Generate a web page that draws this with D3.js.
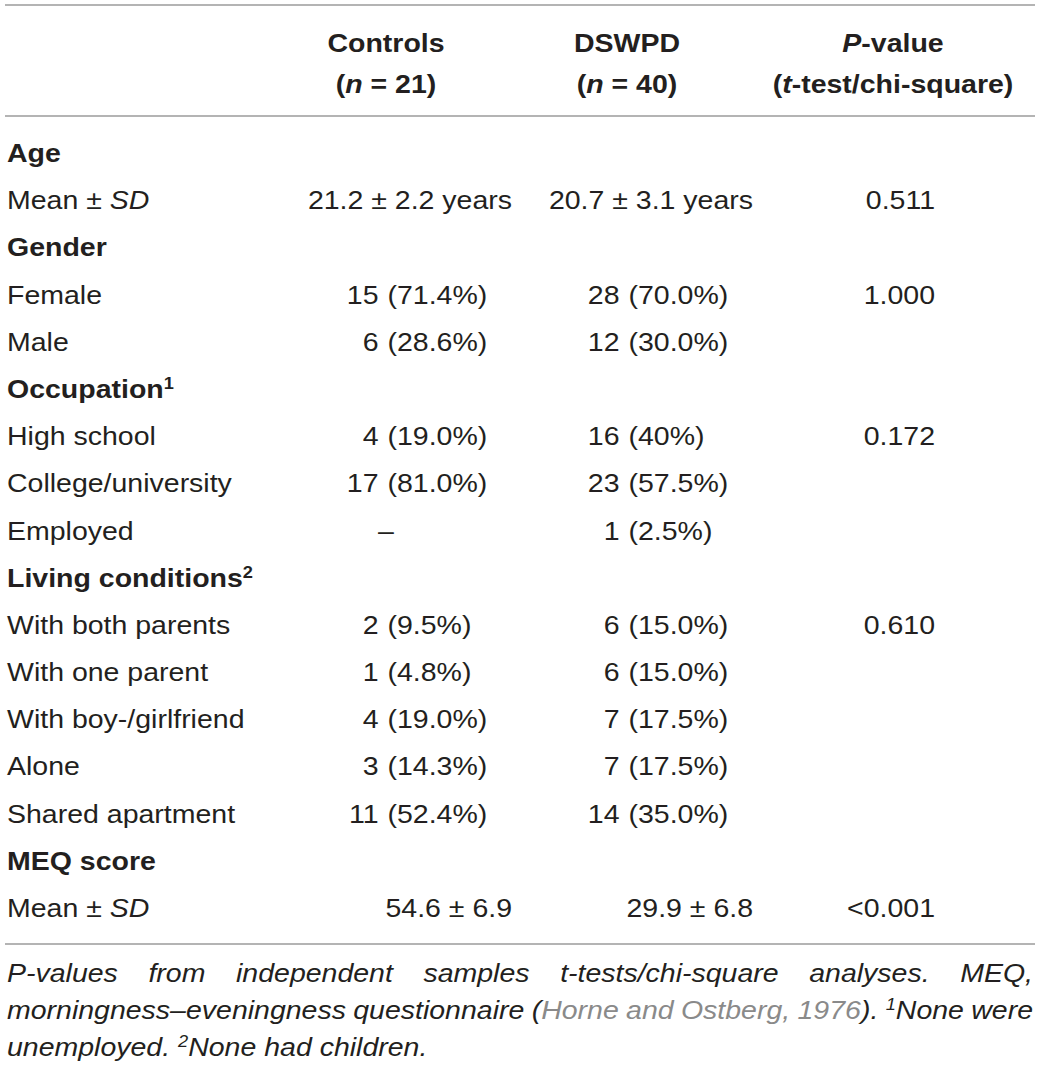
<!DOCTYPE html>
<html>
<head>
<meta charset="utf-8">
<script src="https://cdn.jsdelivr.net/npm/d3@7"></script>
<style>
  html, body { margin: 0; padding: 0; background: #fff; }
  svg { display: block; }
  text { font-family: "Liberation Sans", Arial, Helvetica, sans-serif; fill: #231f20; }
</style>
</head>
<body>
<svg id="chart" width="1040" height="1068"></svg>
<script>
// ---------------- DATA ----------------
// markup: *italic*, ^superscript^, {gray link text}
const headerColumns = ["Controls", "DSWPD", "*P*-value"];
const headerSubs = ["(*n* = 21)", "(*n* = 40)", "(*t*-test/chi-square)"];

const rowLabels = [
  "Age", "Mean ± *SD*",
  "Gender", "Female", "Male",
  "Occupation^1^", "High school", "College/university", "Employed",
  "Living conditions^2^", "With both parents", "With one parent",
  "With boy-/girlfriend", "Alone", "Shared apartment",
  "MEQ score", "Mean ± *SD*"
];
const sectionRows = [true, false, true, false, false, true, false, false, false,
  true, false, false, false, false, false, true, false];

const controlsValues = [
  "", "21.2 ± 2.2 years",
  "", "15 (71.4%)", "6 (28.6%)",
  "", "4 (19.0%)", "17 (81.0%)", "–",
  "", "2 (9.5%)", "1 (4.8%)", "4 (19.0%)", "3 (14.3%)", "11 (52.4%)",
  "", "54.6 ± 6.9"
];
const dswpdValues = [
  "", "20.7 ± 3.1 years",
  "", "28 (70.0%)", "12 (30.0%)",
  "", "16 (40%)", "23 (57.5%)", "1 (2.5%)",
  "", "6 (15.0%)", "6 (15.0%)", "7 (17.5%)", "7 (17.5%)", "14 (35.0%)",
  "", "29.9 ± 6.8"
];
const pValues = [
  "", "0.511",
  "", "1.000", "",
  "", "0.172", "", "",
  "", "0.610", "", "", "", "",
  "", "<0.001"
];

const footnoteLines = [
  { justify: true,  text: "*P-values from independent samples t-tests/chi-square analyses. MEQ,*" },
  { justify: true,  text: "*morningness–eveningness questionnaire (*{*Horne*} {*and*} {*Ostberg,*} {*1976*}*). ^1^None were*" },
  { justify: false, text: "*unemployed. ^2^None had children.*" }
];

// ---------------- LAYOUT ----------------
const W = 1040, H = 1068;
const FS = 25;          // font size
const SX = 1.14;        // horizontal stretch of the reference typeface
const LEFT = 7, RIGHT = 1033;

const svg = d3.select("#chart");
svg.append("rect").attr("width", W).attr("height", H).attr("fill", "#fff");

const colX = d3.scaleOrdinal().domain(["controls", "dswpd", "p"]).range([386, 627, 893]);
const rowY = d3.scaleLinear().domain([0, rowLabels.length - 1]).range([162, 917]);

// rich text parser
function parseMarkup(s) {
  // returns array of {t, italic, sup, gray}
  const out = [];
  let italic = false, sup = false, gray = false, buf = "";
  const flush = () => { if (buf) { out.push({ t: buf, italic, sup, gray }); buf = ""; } };
  for (const ch of s) {
    if (ch === "*") { flush(); italic = !italic; }
    else if (ch === "^") { flush(); sup = !sup; }
    else if (ch === "{") { flush(); gray = true; }
    else if (ch === "}") { flush(); gray = false; }
    else buf += ch;
  }
  flush();
  return out;
}

function richText(parent, x, y, markup, opts = {}) {
  const t = parent.append("text")
    .attr("transform", `translate(${x},${y}) scale(${SX},1)`)
    .attr("text-anchor", opts.anchor || "start")
    .attr("font-size", FS)
    .attr("font-weight", opts.bold ? "bold" : "normal");
  let raised = false;
  parseMarkup(markup).forEach(seg => {
    const ts = t.append("tspan").text(seg.t);
    if (seg.italic) ts.attr("font-style", "italic");
    if (seg.gray) ts.style("fill", "#8a8a8a");
    if (seg.sup && !raised) { ts.attr("font-size", FS * 0.64).attr("dy", -9); raised = true; }
    else if (seg.sup) { ts.attr("font-size", FS * 0.64); }
    else if (raised) { ts.attr("dy", 9); raised = false; }
  });
  return t;
}

// ---------------- RULES ----------------
const rules = [5, 116, 944];
svg.selectAll("line.rule").data(rules).join("line")
  .attr("class", "rule")
  .attr("x1", 5).attr("x2", 1035)
  .attr("y1", d => d).attr("y2", d => d)
  .attr("stroke", "#9b9b9b").attr("stroke-width", 1.6);

// ---------------- HEADER ----------------
const keys = ["controls", "dswpd", "p"];
headerColumns.forEach((h, i) => {
  richText(svg, colX(keys[i]), 52, h, { anchor: "middle", bold: true });
  richText(svg, colX(keys[i]), 93, headerSubs[i], { anchor: "middle", bold: true });
});

// ---------------- BODY ----------------
const body = svg.append("g");
rowLabels.forEach((lab, i) => {
  richText(body, LEFT, rowY(i), lab, { bold: sectionRows[i] });
});

function drawCell(value, key, i) {
  if (!value) return;
  const cx = colX(key), y = rowY(i);
  const m = value.match(/^(\d+) (\(.*\))$/);
  if (m) {
    const parenX = cx + 1.5;
    richText(body, parenX - 9, y, m[1], { anchor: "end" });
    richText(body, parenX, y, m[2], { anchor: "start" });
  } else if (value.includes("±")) {
    richText(body, cx + 126, y, value, { anchor: "end" });
  } else {
    richText(body, cx, y, value, { anchor: "middle" });
  }
}
controlsValues.forEach((v, i) => drawCell(v, "controls", i));
dswpdValues.forEach((v, i) => drawCell(v, "dswpd", i));
pValues.forEach((v, i) => {
  if (!v) return;
  richText(body, 935, rowY(i), v, { anchor: "end" });
});

// ---------------- FOOTNOTE ----------------
const footY = d3.scaleLinear().domain([0, 2]).range([982, 1056]);
const foot = svg.append("g");
footnoteLines.forEach((line, li) => {
  const y = footY(li);
  if (!line.justify) {
    richText(foot, LEFT, y, line.text);
    return;
  }
  // split markup into words while keeping style markers
  const segs = parseMarkup(line.text);
  const words = [[]];
  segs.forEach(seg => {
    const parts = seg.t.split(" ");
    parts.forEach((p, k) => {
      if (k > 0) words.push([]);
      if (p) words[words.length - 1].push({ ...seg, t: p });
    });
  });
  const clean = words.filter(w => w.length);
  const toMarkup = w => w.map(s => {
    let t = s.t;
    if (s.sup) t = "^" + t + "^";
    if (s.italic) t = "*" + t + "*";
    if (s.gray) t = "{" + t + "}";
    return t;
  }).join("");
  const nodes = clean.map(w => richText(foot, 0, y, toMarkup(w)));
  const widths = nodes.map(n => n.node().getComputedTextLength() * SX);
  const total = d3.sum(widths);
  const gap = (RIGHT - LEFT - total) / (nodes.length - 1);
  let x = LEFT;
  nodes.forEach((n, k) => {
    n.attr("transform", `translate(${x},${y}) scale(${SX},1)`);
    x += widths[k] + gap;
  });
});
</script>
</body>
</html>
